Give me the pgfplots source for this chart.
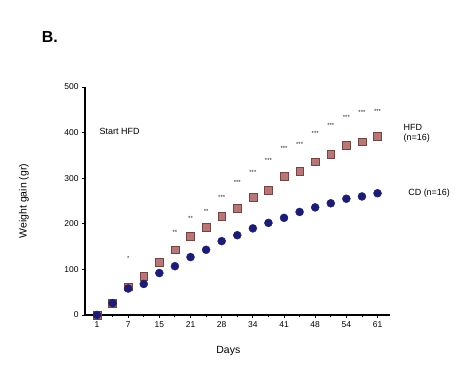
\documentclass[border=0pt]{standalone}
\usepackage{pgfplots}
\pgfplotsset{compat=1.18}
\usepackage{pgfplotstable}
\usepackage{fontspec}
\setmainfont{Liberation Sans}
\definecolor{navyb}{RGB}{28,28,115}
\definecolor{redb}{RGB}{168,95,95}

\pgfplotstableread{
idx cd hfd
0 0 0
1 26 26
2 58 62
3 68 85
4 92 116
5 107 143
6 127 172
7 143 193
8 162 217
9 175 235
10 190 258
11 202 274
12 213 305
13 226 316
14 236 336
15 245 352
16 255 372
17 260 380
18 267 392
}\growth

\pgfplotstableread{
idx y lab
2 125 *
5 180 **
6 212 **
7 228 **
8 258 ***
9 290 ***
10 313 ***
11 340 ***
12 365 ***
13 375 ***
14 398 ***
15 415 ***
16 433 ***
17 445 ***
18 447 ***
}\stars

\begin{document}
\begin{tikzpicture}
\useasboundingbox (0,0) rectangle (474bp,373bp);
\begin{axis}[
  at={(85bp,58bp)}, anchor=south west,
  scale only axis, width=305bp, height=228bp,
  xmin=-0.77, xmax=18.8, ymin=0, ymax=500,
  clip=false,
  axis x line*=bottom, axis y line*=left,
  axis line style={line width=1.1pt, -},
  every tick/.style={line width=0.9pt, black},
  tick align=outside, major tick length=3bp, minor tick length=2.5bp,
  xtick={0,2,4,6,8,10,12,14,16,18},
  xticklabels={1,7,15,21,28,34,41,48,54,61},
  minor xtick={1,3,5,7,9,11,13,15,17},
  ytick={0,100,200,300,400,500},
  tick label style={font=\fontsize{8.5}{9}\selectfont},
  /pgf/number format/assume math mode=true,
  xlabel={Days},
  ylabel={Weight gain (gr)},
  label style={font=\fontsize{10.5}{11}\selectfont},
  xlabel style={at={(axis description cs:0.47,-0.16)}, anchor=center},
  ylabel style={at={(axis description cs:-0.2,0.5)}, anchor=center},
]
\addplot[only marks, mark=square*, mark size=3.9bp, mark options={fill=redb!85, draw=redb!70!black, line width=0.4pt}]
  table[x=idx, y=hfd] {\growth};
\addplot[only marks, mark=*, mark size=4bp, mark options={fill=navyb, draw=navyb}]
  table[x=idx, y=cd] {\growth};
\addplot[only marks, mark=none, nodes near coords, point meta=explicit symbolic,
  every node near coord/.style={font=\fontsize{6}{6}\selectfont, anchor=center, inner sep=0pt, text=black!85}]
  table[x=idx, y=y, meta=lab] {\stars};
\node[anchor=west, font=\fontsize{9}{10}\selectfont] at (axis cs:-0.05,403) {Start HFD};
\node[anchor=west, align=left, font=\fontsize{9}{10.5}\selectfont] at (axis cs:19.45,398) {HFD\\(n=16)};
\node[anchor=west, font=\fontsize{9}{10}\selectfont] at (axis cs:19.75,268) {CD (n=16)};
\node[font=\bfseries\fontsize{16}{17}\selectfont] at (axis description cs:-0.115,1.22) {B.};
\end{axis}
\end{tikzpicture}
\end{document}
